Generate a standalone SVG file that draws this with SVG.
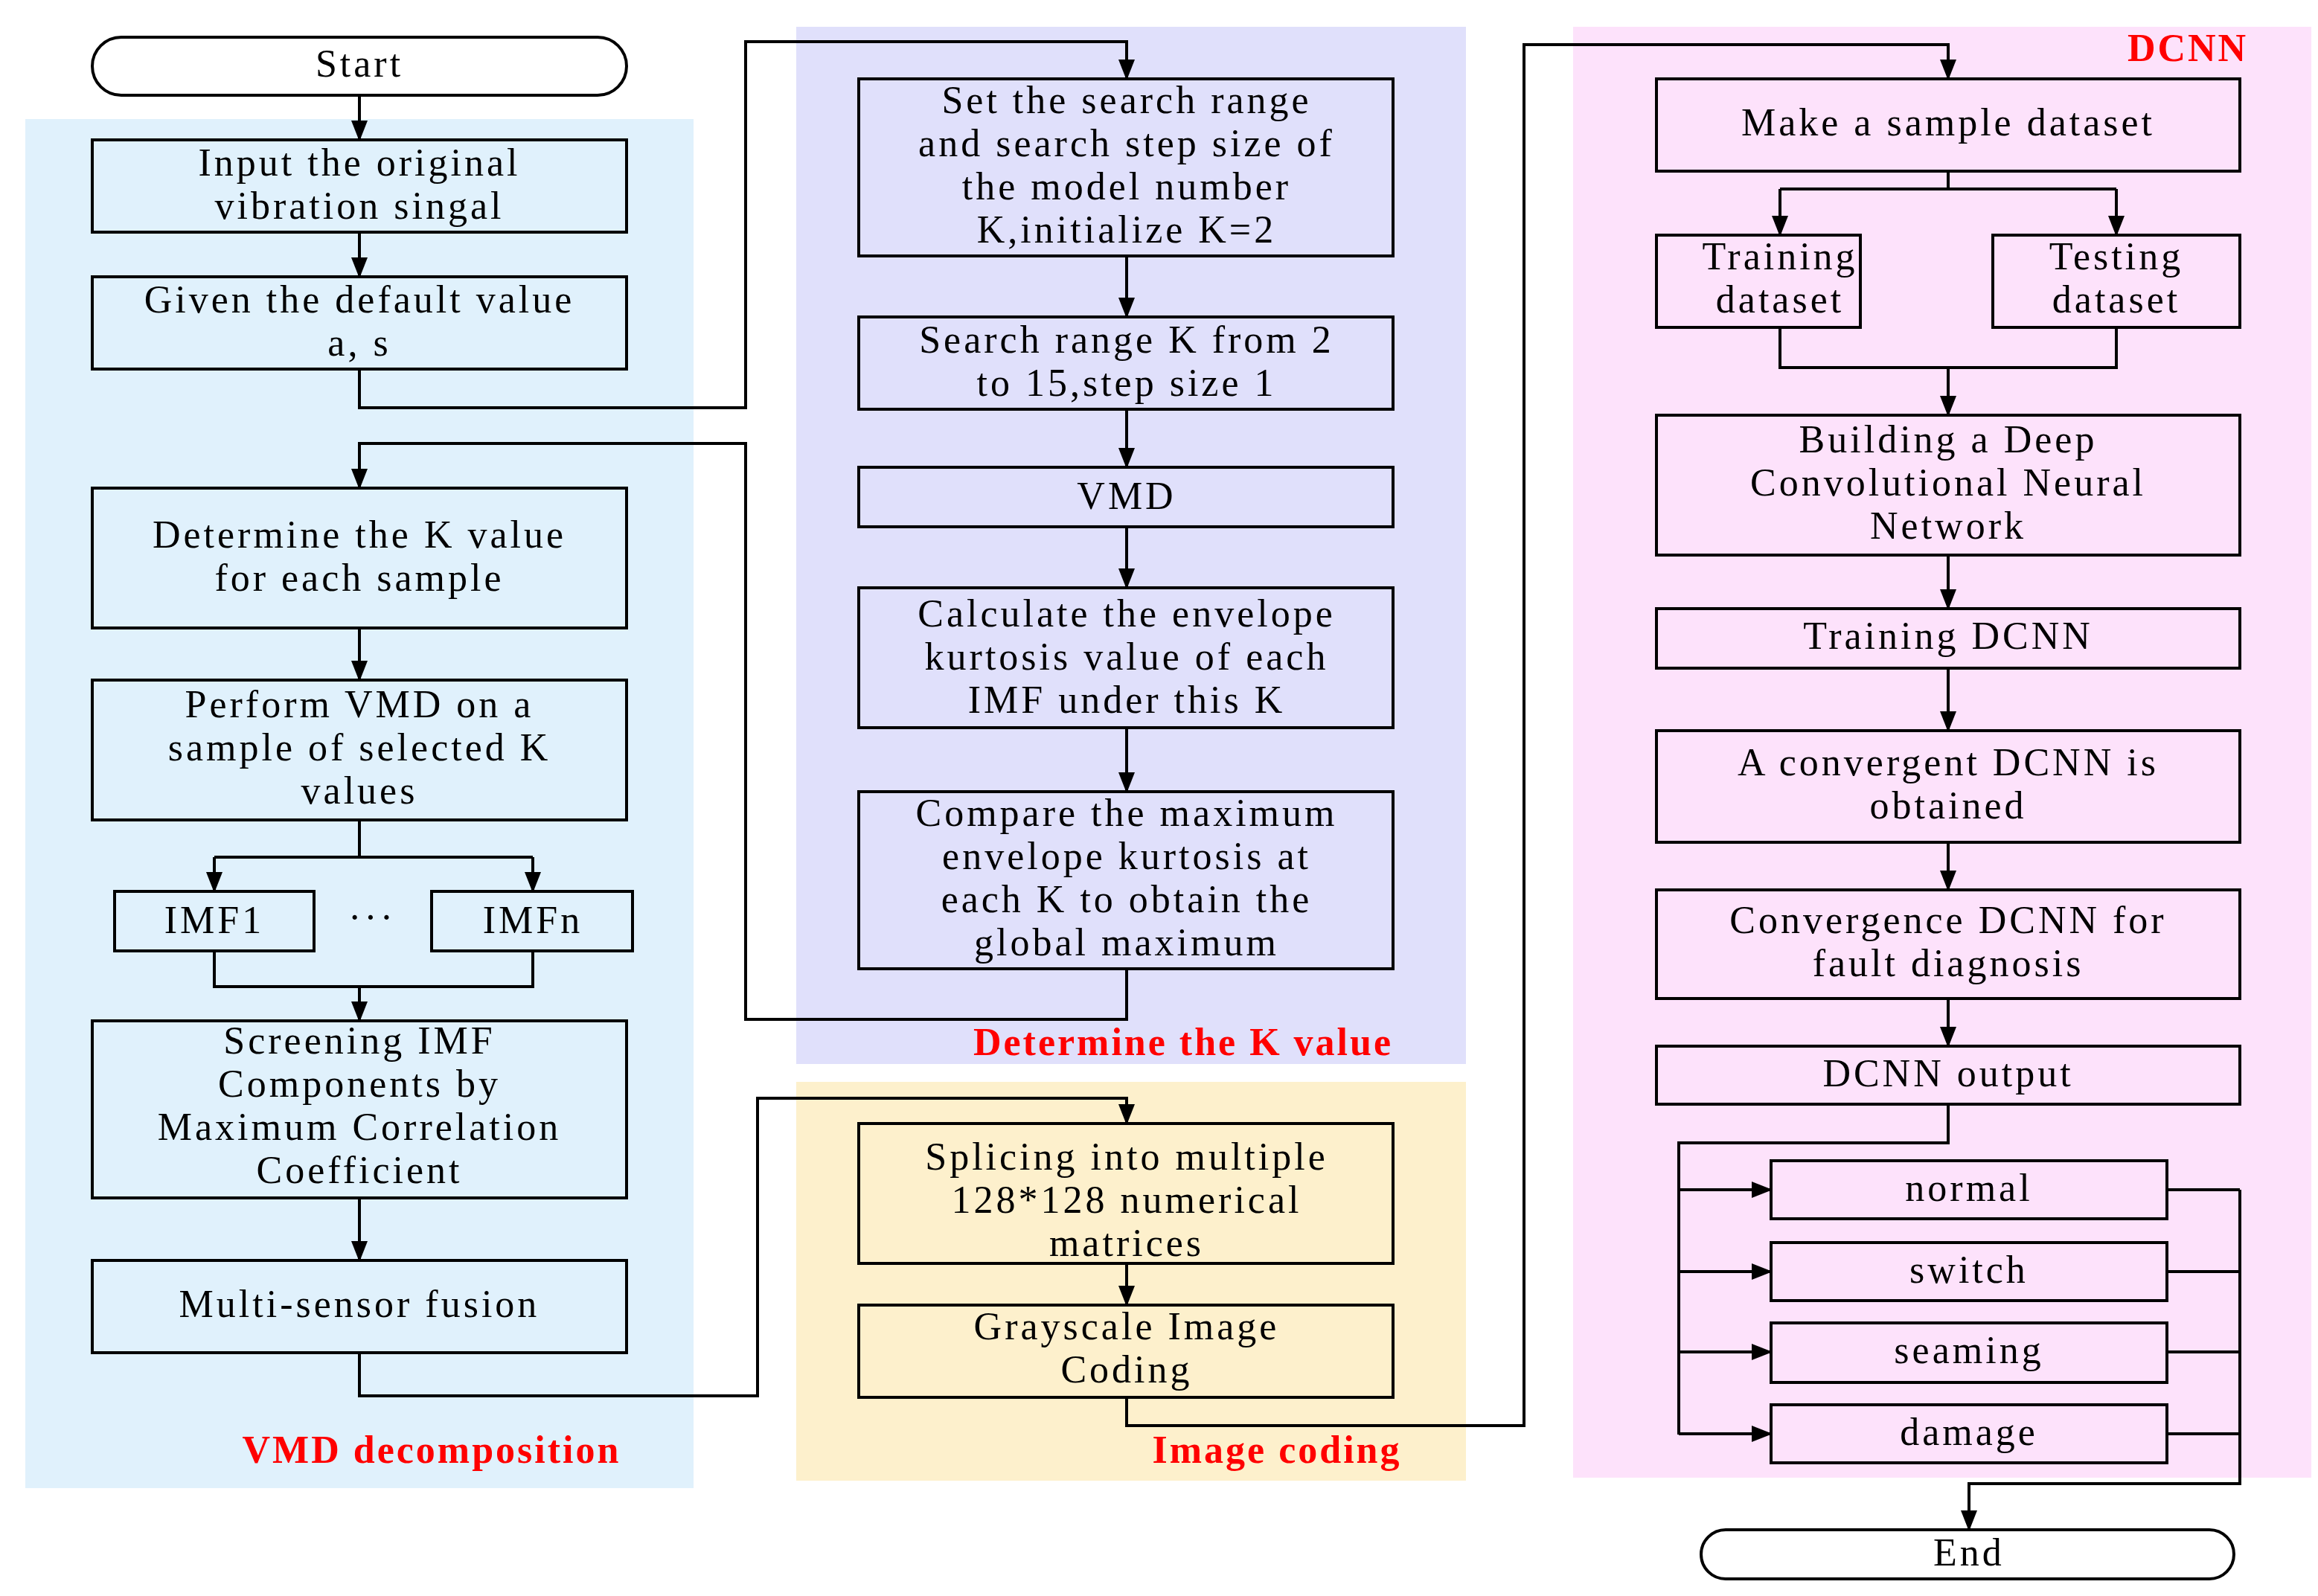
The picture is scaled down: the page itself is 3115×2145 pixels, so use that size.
<svg xmlns="http://www.w3.org/2000/svg" width="3115" height="2145" viewBox="0 0 3115 2145">
<style>
.b{fill:none;stroke:#000;stroke-width:4}
.t{font-family:"Liberation Serif",serif;font-size:52px;letter-spacing:4px;text-anchor:middle;fill:#000}
.r{font-family:"Liberation Serif",serif;font-size:52px;font-weight:bold;letter-spacing:3px;text-anchor:middle;fill:#ff0000}
.c{fill:none;stroke:#000;stroke-width:4}
</style>
<defs><marker id="a" markerWidth="8" markerHeight="8" refX="7" refY="4" orient="auto" markerUnits="userSpaceOnUse" viewBox="0 0 8 8"><path d="M0,0L8,4L0,8z" fill="#000"/></marker>
<marker id="h" markerWidth="28" markerHeight="22" refX="26" refY="11" orient="auto" markerUnits="userSpaceOnUse"><path d="M0,0L28,11L0,22z" fill="#000"/></marker></defs>
<rect width="3115" height="2145" fill="#fff"/>
<rect x="34" y="160" width="898" height="1840" fill="#e0f1fc"/>
<rect x="1070" y="36" width="900" height="1394" fill="#e0e0fb"/>
<rect x="1070" y="1454" width="900" height="536" fill="#fdf0cc"/>
<rect x="2114" y="36" width="992" height="1950" fill="#fde2fb"/>
<text class="r" x="580" y="1966">VMD decomposition</text>
<text class="r" x="1590" y="1418">Determine the K value</text>
<text class="r" x="1716" y="1966">Image coding</text>
<text class="r" x="2940" y="82">DCNN</text>
<g id="connectors">
<path class="c" marker-end="url(#h)" d="M483,128V188"/>
<path class="c" marker-end="url(#h)" d="M483,312V372"/>
<path class="c" marker-end="url(#h)" d="M483,496V548H1002V56H1514V106"/>
<path class="c" marker-end="url(#h)" d="M1514,344V426"/>
<path class="c" marker-end="url(#h)" d="M1514,550V628"/>
<path class="c" marker-end="url(#h)" d="M1514,708V790"/>
<path class="c" marker-end="url(#h)" d="M1514,978V1064"/>
<path class="c" marker-end="url(#h)" d="M1514,1302V1370H1002V596H483V656"/>
<path class="c" marker-end="url(#h)" d="M483,844V914"/>
<path class="c" d="M483,1102V1152M288,1152H716"/>
<path class="c" marker-end="url(#h)" d="M288,1152V1198"/>
<path class="c" marker-end="url(#h)" d="M716,1152V1198"/>
<path class="c" d="M288,1278V1326H716V1278"/>
<path class="c" marker-end="url(#h)" d="M483,1326V1372"/>
<path class="c" marker-end="url(#h)" d="M483,1610V1694"/>
<path class="c" marker-end="url(#h)" d="M483,1818V1876H1018V1476H1514V1510"/>
<path class="c" marker-end="url(#h)" d="M1514,1698V1754"/>
<path class="c" marker-end="url(#h)" d="M1514,1878V1916H2048V60H2618V106"/>
<path class="c" d="M2618,230V254M2392,254H2844"/>
<path class="c" marker-end="url(#h)" d="M2392,254V316"/>
<path class="c" marker-end="url(#h)" d="M2844,254V316"/>
<path class="c" d="M2392,440V494H2844V440"/>
<path class="c" marker-end="url(#h)" d="M2618,494V558"/>
<path class="c" marker-end="url(#h)" d="M2618,746V818"/>
<path class="c" marker-end="url(#h)" d="M2618,898V982"/>
<path class="c" marker-end="url(#h)" d="M2618,1132V1196"/>
<path class="c" marker-end="url(#h)" d="M2618,1342V1406"/>
<path class="c" d="M2618,1484V1536H2256V1928"/>
<path class="c" marker-end="url(#h)" d="M2256,1599H2380"/>
<path class="c" marker-end="url(#h)" d="M2256,1709H2380"/>
<path class="c" marker-end="url(#h)" d="M2256,1817H2380"/>
<path class="c" marker-end="url(#h)" d="M2256,1927H2380"/>
<path class="c" d="M2912,1599H3010M2912,1709H3010M2912,1817H3010M2912,1927H3010M3010,1599V1994H2646"/>
<path class="c" marker-end="url(#h)" d="M2646,1992V2056"/>
</g>
<g id="start"><rect class="b" x="124" y="50" width="718" height="78" rx="39"/><text class="t" x="483" y="103">Start</text></g>
<g id="input"><rect class="b" x="124" y="188" width="718" height="124"/><text class="t" x="483" y="236">Input the original<tspan x="483" dy="58">vibration singal</tspan></text></g>
<g id="given"><rect class="b" x="124" y="372" width="718" height="124"/><text class="t" x="483" y="420">Given the default value<tspan x="483" dy="58">a, s</tspan></text></g>
<g id="detk"><rect class="b" x="124" y="656" width="718" height="188"/><text class="t" x="483" y="736">Determine the K value<tspan x="483" dy="58">for each sample</tspan></text></g>
<g id="perform"><rect class="b" x="124" y="914" width="718" height="188"/><text class="t" x="483" y="964">Perform VMD on a<tspan x="483" dy="58">sample of selected K</tspan><tspan x="483" dy="58">values</tspan></text></g>
<g id="imf1"><rect class="b" x="154" y="1198" width="268" height="80"/><text class="t" x="288" y="1254">IMF1</text></g>
<text class="t" x="500" y="1250">···</text>
<g id="imfn"><rect class="b" x="580" y="1198" width="270" height="80"/><text class="t" x="716" y="1254">IMFn</text></g>
<g id="screen"><rect class="b" x="124" y="1372" width="718" height="238"/><text class="t" x="483" y="1416">Screening IMF<tspan x="483" dy="58">Components by</tspan><tspan x="483" dy="58">Maximum Correlation</tspan><tspan x="483" dy="58">Coefficient</tspan></text></g>
<g id="multi"><rect class="b" x="124" y="1694" width="718" height="124"/><text class="t" x="483" y="1770">Multi-sensor fusion</text></g>
<g id="setrange"><rect class="b" x="1154" y="106" width="718" height="238"/><text class="t" x="1514" y="152">Set the search range<tspan x="1514" dy="58">and search step size of</tspan><tspan x="1514" dy="58">the model number</tspan><tspan x="1514" dy="58">K,initialize K=2</tspan></text></g>
<g id="srange"><rect class="b" x="1154" y="426" width="718" height="124"/><text class="t" x="1514" y="474">Search range K from 2<tspan x="1514" dy="58">to 15,step size 1</tspan></text></g>
<g id="vmd"><rect class="b" x="1154" y="628" width="718" height="80"/><text class="t" x="1514" y="684">VMD</text></g>
<g id="calc"><rect class="b" x="1154" y="790" width="718" height="188"/><text class="t" x="1514" y="842">Calculate the envelope<tspan x="1514" dy="58">kurtosis value of each</tspan><tspan x="1514" dy="58">IMF under this K</tspan></text></g>
<g id="compare"><rect class="b" x="1154" y="1064" width="718" height="238"/><text class="t" x="1514" y="1110">Compare the maximum<tspan x="1514" dy="58">envelope kurtosis at</tspan><tspan x="1514" dy="58">each K to obtain the</tspan><tspan x="1514" dy="58">global maximum</tspan></text></g>
<g id="splice"><rect class="b" x="1154" y="1510" width="718" height="188"/><text class="t" x="1514" y="1572">Splicing into multiple<tspan x="1514" dy="58">128*128 numerical</tspan><tspan x="1514" dy="58">matrices</tspan></text></g>
<g id="gray"><rect class="b" x="1154" y="1754" width="718" height="124"/><text class="t" x="1514" y="1800">Grayscale Image<tspan x="1514" dy="58">Coding</tspan></text></g>
<g id="make"><rect class="b" x="2226" y="106" width="784" height="124"/><text class="t" x="2618" y="182">Make a sample dataset</text></g>
<g id="train"><rect class="b" x="2226" y="316" width="274" height="124"/><text class="t" x="2392" y="362">Training<tspan x="2392" dy="58">dataset</tspan></text></g>
<g id="test"><rect class="b" x="2678" y="316" width="332" height="124"/><text class="t" x="2844" y="362">Testing<tspan x="2844" dy="58">dataset</tspan></text></g>
<g id="build"><rect class="b" x="2226" y="558" width="784" height="188"/><text class="t" x="2618" y="608">Building a Deep<tspan x="2618" dy="58">Convolutional Neural</tspan><tspan x="2618" dy="58">Network</tspan></text></g>
<g id="trdcnn"><rect class="b" x="2226" y="818" width="784" height="80"/><text class="t" x="2618" y="872">Training DCNN</text></g>
<g id="conv"><rect class="b" x="2226" y="982" width="784" height="150"/><text class="t" x="2618" y="1042">A convergent DCNN is<tspan x="2618" dy="58">obtained</tspan></text></g>
<g id="convf"><rect class="b" x="2226" y="1196" width="784" height="146"/><text class="t" x="2618" y="1254">Convergence DCNN for<tspan x="2618" dy="58">fault diagnosis</tspan></text></g>
<g id="out"><rect class="b" x="2226" y="1406" width="784" height="78"/><text class="t" x="2618" y="1460">DCNN output</text></g>
<g id="normal"><rect class="b" x="2380" y="1560" width="532" height="78"/><text class="t" x="2646" y="1614">normal</text></g>
<g id="switch"><rect class="b" x="2380" y="1670" width="532" height="78"/><text class="t" x="2646" y="1724">switch</text></g>
<g id="seaming"><rect class="b" x="2380" y="1778" width="532" height="80"/><text class="t" x="2646" y="1832">seaming</text></g>
<g id="damage"><rect class="b" x="2380" y="1888" width="532" height="78"/><text class="t" x="2646" y="1942">damage</text></g>
<g id="end"><rect class="b" x="2286" y="2056" width="716" height="66" rx="33"/><text class="t" x="2646" y="2104">End</text></g>
</svg>
